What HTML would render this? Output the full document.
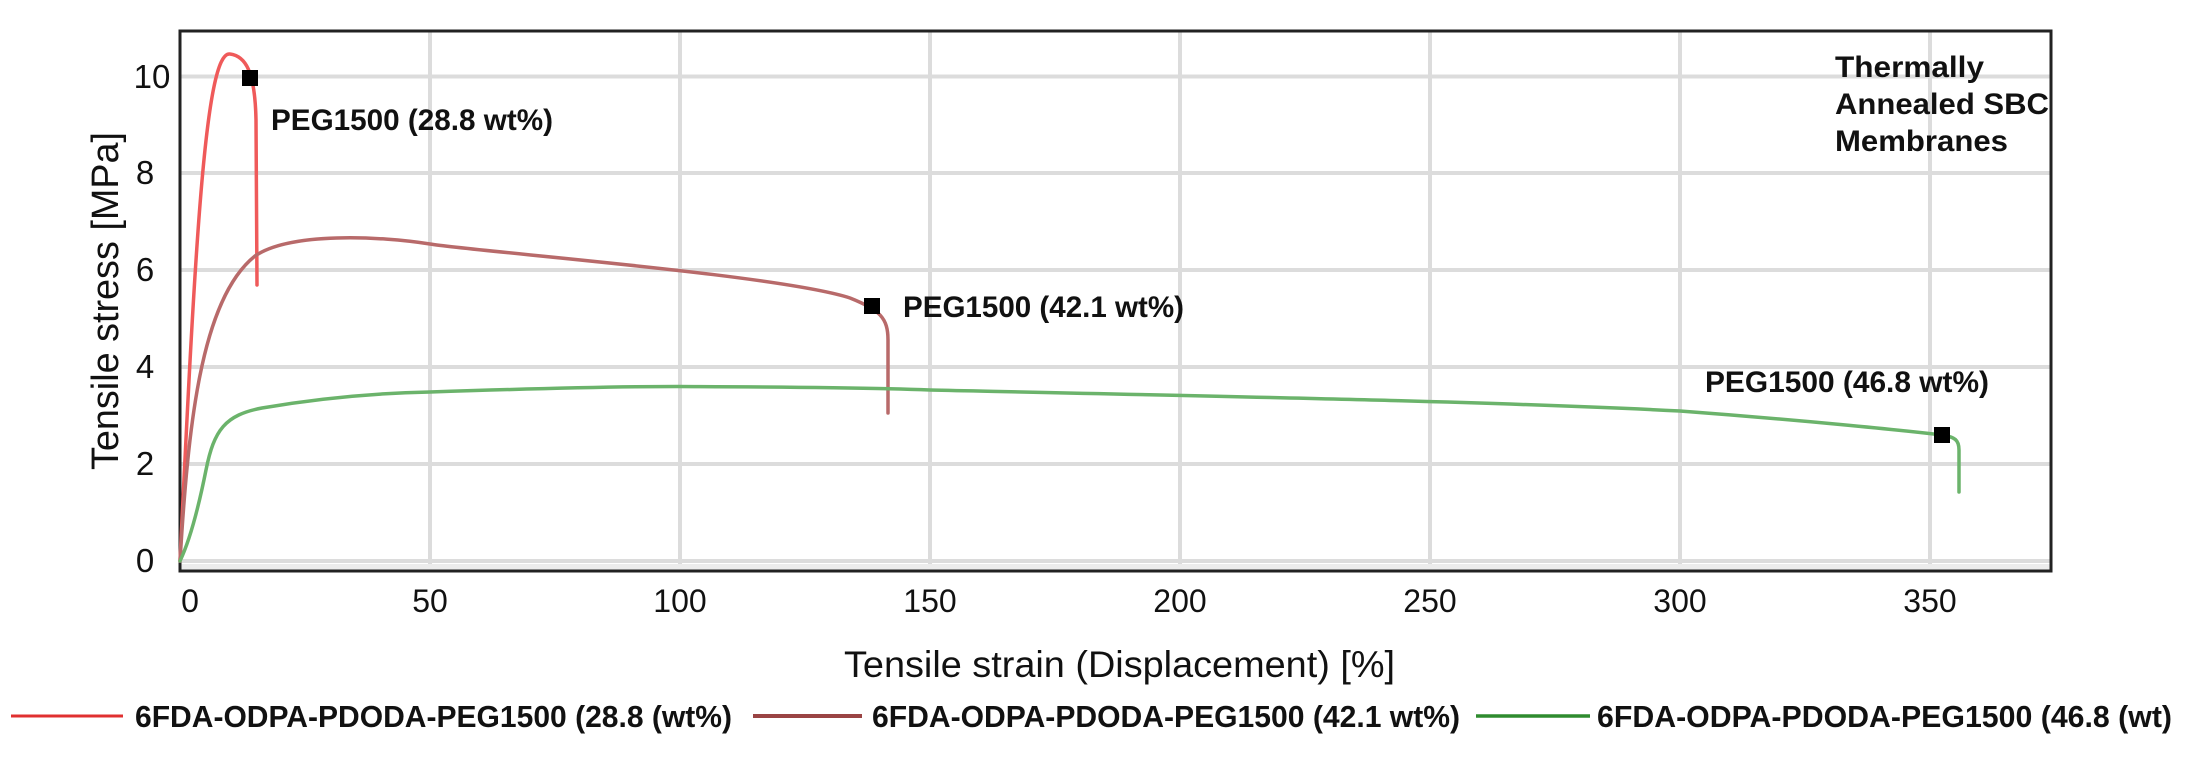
<!DOCTYPE html>
<html><head><meta charset="utf-8"><style>
html,body{margin:0;padding:0;background:#fff;}
svg{display:block;}
text{font-family:"Liberation Sans",Arial,sans-serif;fill:#111;}
</style></head><body>
<svg width="2186" height="762" viewBox="0 0 2186 762" xmlns="http://www.w3.org/2000/svg">
<rect width="2186" height="762" fill="#fff"/>
<!-- grid -->
<g stroke="#dcdcdc" stroke-width="4">
<line x1="430" y1="31" x2="430" y2="571"/><line x1="680" y1="31" x2="680" y2="571"/>
<line x1="930" y1="31" x2="930" y2="571"/><line x1="1180" y1="31" x2="1180" y2="571"/>
<line x1="1430" y1="31" x2="1430" y2="571"/><line x1="1680" y1="31" x2="1680" y2="571"/>
<line x1="1930" y1="31" x2="1930" y2="571"/>
<line x1="180" y1="561" x2="2051" y2="561"/><line x1="180" y1="464" x2="2051" y2="464"/>
<line x1="180" y1="367" x2="2051" y2="367"/><line x1="180" y1="270" x2="2051" y2="270"/>
<line x1="180" y1="173" x2="2051" y2="173"/><line x1="180" y1="76.5" x2="2051" y2="76.5"/>
</g>
<rect x="180" y="564" width="1871" height="6" fill="#ececec"/>
<rect x="180" y="31" width="1871" height="540" fill="none" stroke="#222" stroke-width="3"/>
<!-- series -->
<g fill="none" stroke-width="3.5" stroke-linecap="round" stroke-linejoin="round">
<path d="M180,561 C195,250 205,50 230,54 C245,56 255,70 256,120 L257,285" stroke="#ef5a5a"/>
<path d="M180,561 C188,430 200,300 255,256 C290,232 380,236 430,244 S780,275 850,298 C880,310 888,318 888,340 L888,413" stroke="#b86a6a"/>
<path d="M180,561 C190,540 198,510 206,470 C214,430 225,415 262,408 C320,398 380,393 430,392 C550,388 650,386 700,386.6 C800,387 880,388 930,390 C1300,398 1500,402 1680,411 C1800,420 1900,430 1942,435 C1955,437 1959,440 1959,450 L1959,492" stroke="#6bb36b"/>
</g>
<rect x="242" y="70" width="16" height="16" fill="#000"/>
<rect x="864" y="298" width="16" height="16" fill="#000"/>
<rect x="1934" y="427" width="16" height="16" fill="#000"/>
<!-- annotations -->
<g font-size="30" font-weight="bold">
<text x="271" y="130" textLength="282" lengthAdjust="spacingAndGlyphs">PEG1500 (28.8 wt%)</text>
<text x="903" y="317" textLength="281" lengthAdjust="spacingAndGlyphs">PEG1500 (42.1 wt%)</text>
<text x="1705" y="392" textLength="284" lengthAdjust="spacingAndGlyphs">PEG1500 (46.8 wt%)</text>
<text x="1835" y="77" textLength="149" lengthAdjust="spacingAndGlyphs">Thermally</text>
<text x="1835" y="114" textLength="214" lengthAdjust="spacingAndGlyphs">Annealed SBC</text>
<text x="1835" y="151" textLength="173" lengthAdjust="spacingAndGlyphs">Membranes</text>
</g>
<!-- y ticks -->
<g font-size="33" text-anchor="middle" fill="#222">
<text x="145" y="572">0</text><text x="145" y="475">2</text><text x="145" y="378">4</text>
<text x="145" y="281">6</text><text x="145" y="184">8</text><text x="152" y="88">10</text>
</g>
<text transform="translate(118,301) rotate(-90)" font-size="38" text-anchor="middle" textLength="338" lengthAdjust="spacingAndGlyphs">Tensile stress [MPa]</text>
<!-- x ticks -->
<g font-size="32" text-anchor="middle" fill="#222">
<text x="190" y="612">0</text><text x="430" y="612">50</text><text x="680" y="612">100</text>
<text x="930" y="612">150</text><text x="1180" y="612">200</text><text x="1430" y="612">250</text>
<text x="1680" y="612">300</text><text x="1930" y="612">350</text>
</g>
<text x="844" y="677" font-size="37" textLength="551" lengthAdjust="spacingAndGlyphs">Tensile strain (Displacement) [%]</text>
<!-- legend -->
<line x1="11" y1="716" x2="123" y2="716" stroke="#e03030" stroke-width="3"/>
<line x1="753" y1="716" x2="862" y2="716" stroke="#9a4444" stroke-width="4"/>
<line x1="1476" y1="716" x2="1590" y2="716" stroke="#2e8b2e" stroke-width="3.5"/>
<g font-size="31" font-weight="bold">
<text x="135" y="727" textLength="597" lengthAdjust="spacingAndGlyphs">6FDA-ODPA-PDODA-PEG1500 (28.8 (wt%)</text>
<text x="872" y="727" textLength="588" lengthAdjust="spacingAndGlyphs">6FDA-ODPA-PDODA-PEG1500 (42.1 wt%)</text>
<text x="1597" y="727" textLength="575" lengthAdjust="spacingAndGlyphs">6FDA-ODPA-PDODA-PEG1500 (46.8 (wt)</text>
</g>
</svg>
</body></html>
